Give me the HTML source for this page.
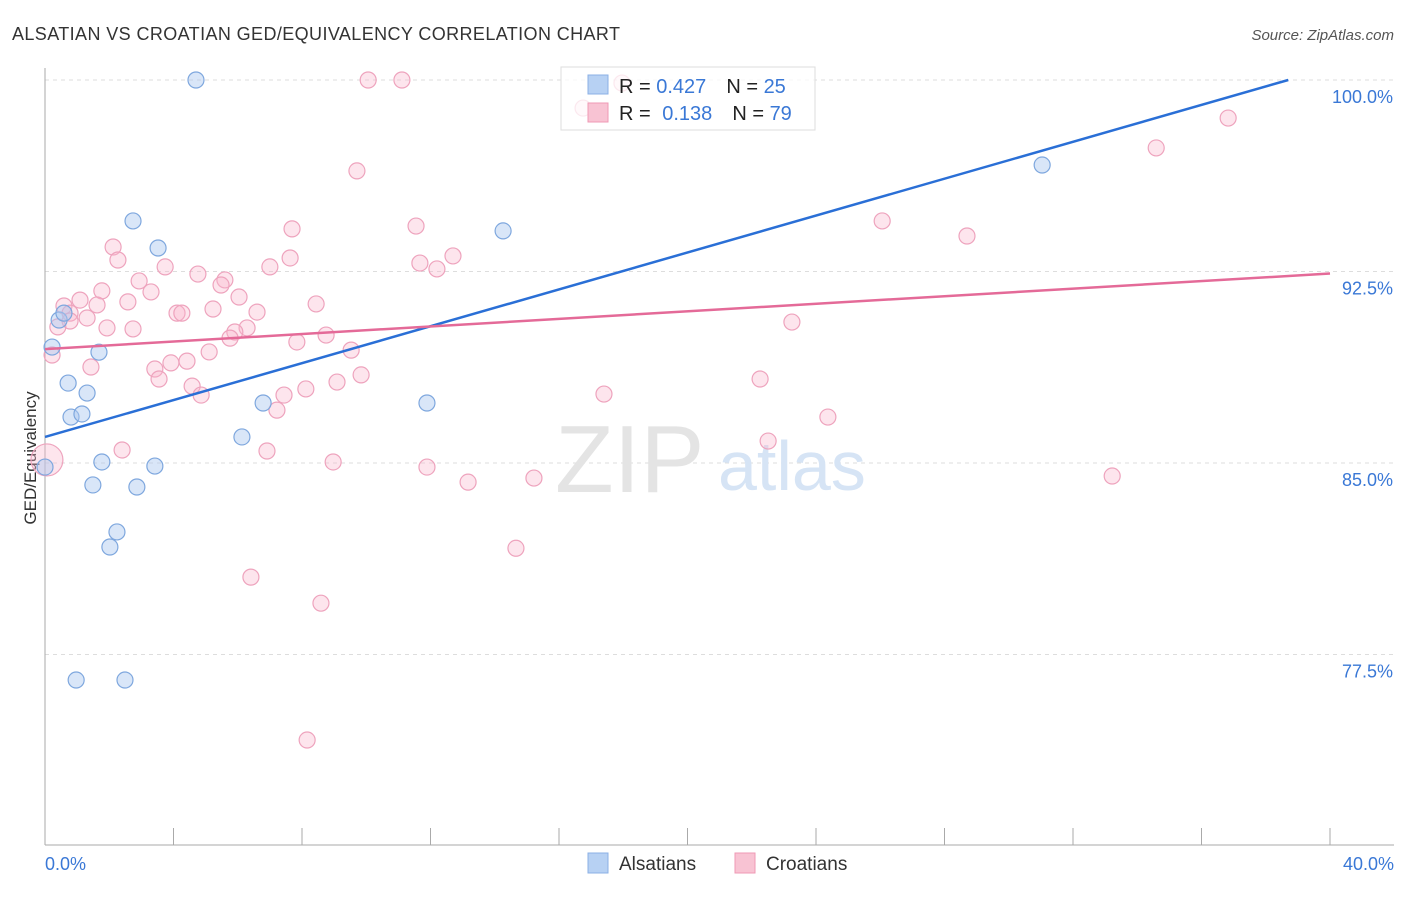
<!DOCTYPE html>
<html><head><meta charset="utf-8"><style>
body{margin:0;background:#fff;font-family:"Liberation Sans",sans-serif;}
svg text{font-family:"Liberation Sans",sans-serif;}
</style></head><body>
<svg id="chart" width="1406" height="892">
<text x="12" y="40" font-size="18" fill="#333" textLength="608">ALSATIAN VS CROATIAN GED/EQUIVALENCY CORRELATION CHART</text>
<text x="1394" y="40" font-size="15" fill="#555" text-anchor="end" font-style="italic">Source: ZipAtlas.com</text>
<text x="36" y="458" font-size="17" fill="#333" text-anchor="middle" transform="rotate(-90 36 458)">GED/Equivalency</text>
<g id="grid"></g>
<text x="555" y="492" font-size="96" fill="#e4e4e4" font-family="Liberation Serif">ZIP</text>
<text x="718" y="490" font-size="70" fill="#d6e4f5">atlas</text>
<g id="points"></g>
<g id="lines"></g>
<g>
<rect x="561" y="67" width="254" height="63" fill="#fff" fill-opacity="0.75" stroke="#ddd"/>
<rect x="588" y="75" width="20" height="19" fill="#b7d1f3" stroke="#8bb0e6"/>
<rect x="588" y="103" width="20" height="19" fill="#f8c3d3" stroke="#ef9ab5"/>
<text x="619" y="93" font-size="20" fill="#222">R = <tspan fill="#3a78d6">0.427</tspan><tspan dx="20">N = </tspan><tspan fill="#3a78d6">25</tspan></text>
<text x="619" y="120" font-size="20" fill="#222">R = <tspan dx="6" fill="#3a78d6">0.138</tspan><tspan dx="20">N = </tspan><tspan fill="#3a78d6">79</tspan></text>
</g>
<g>
<rect x="588" y="853" width="20" height="20" fill="#b7d1f3" stroke="#8bb0e6"/>
<text x="619" y="870" font-size="19" fill="#333">Alsatians</text>
<rect x="735" y="853" width="20" height="20" fill="#f8c3d3" stroke="#ef9ab5"/>
<text x="766" y="870" font-size="19" fill="#333">Croatians</text>
</g>
</svg>
<script>
const xTicksLabels=["0.0%","40.0%"];
const yTicks=[100,92.5,85,77.5];
const yTickLabels=["100.0%","92.5%","85.0%","77.5%"];
const alsX=[4.70,2.74,3.52,0.44,0.59,0.22,1.68,0.72,1.31,0.81,1.15,0.0,1.77,3.42,1.49,2.86,2.24,2.02,6.13,6.79,11.89,14.26,31.04,0.97,2.49];
const alsY=[100.0,94.48,93.42,90.60,90.87,89.54,89.34,88.13,87.74,86.80,86.92,84.84,85.04,84.88,84.14,84.06,82.30,81.71,86.02,87.35,87.35,94.09,96.67,76.50,76.50];
const croX=[10.06,11.11,17.96,16.75,36.83,34.59,9.71,26.06,28.70,11.55,7.69,2.12,2.27,12.70,7.63,3.74,11.67,12.20,7.00,4.76,2.93,5.60,5.48,1.77,3.30,2.58,6.04,0.59,1.09,8.44,5.23,6.60,4.11,4.26,0.78,1.62,1.31,0.78,1.93,2.74,0.40,6.29,5.91,8.75,5.76,7.84,23.25,9.53,5.11,0.22,4.42,3.92,1.43,3.42,3.55,9.84,9.09,4.58,4.86,7.44,8.12,22.26,17.40,7.22,24.37,22.51,2.40,6.91,0.06,8.97,11.89,33.22,15.22,13.17,14.66,6.41,8.59,8.16];
const croY=[100.0,100.0,99.88,98.90,98.51,97.34,96.44,94.48,93.89,94.28,94.17,93.46,92.95,93.11,93.03,92.68,92.83,92.60,92.68,92.40,92.13,92.17,91.97,91.74,91.70,91.31,91.50,91.15,91.38,91.23,91.03,90.91,90.87,90.87,90.87,91.19,90.68,90.56,90.29,90.25,90.33,90.29,90.13,90.01,89.89,89.74,90.52,89.42,89.35,89.23,88.99,88.92,88.76,88.68,88.29,88.45,88.17,88.01,87.66,87.66,87.90,88.29,87.70,87.07,86.80,85.86,85.51,85.47,85.12,85.04,84.84,84.49,84.41,84.25,81.66,80.53,79.51,74.15];
const alsLine=[[0,86.02],[38.7,100]];
const croLine=[[0,89.46],[40,92.42]];
const NS="http://www.w3.org/2000/svg";
const X=v=>45+v/40*1285;
const Y=v=>80+(100-v)/7.5*191.5;
function mk(t,a,p){const e=document.createElementNS(NS,t);for(const k in a)e.setAttribute(k,a[k]);p.appendChild(e);return e;}
const g=document.getElementById('grid');
yTicks.forEach((t,i)=>{
 const l=mk('line',{x1:45,x2:1394,y1:Y(t),y2:Y(t),stroke:'#ddd','stroke-dasharray':'4,4'},g);
 
 
 const tx=mk('text',{x:1393,y:Y(t)+23,'font-size':18,fill:'#3a78d6','text-anchor':'end'},g);
 tx.textContent=yTickLabels[i];
 
 
});
mk('line',{x1:45,x2:45,y1:68,y2:845,stroke:'#aaa'},g);
mk('line',{x1:45,x2:1394,y1:845,y2:845,stroke:'#aaa'},g);
for(let i=0;i<=10;i++){const l=mk('line',{x1:X(i*4),x2:X(i*4),y1:828,y2:845,stroke:'#aaa'},g);
 
 }
const t0=mk('text',{x:45,y:870,'font-size':18,fill:'#3a78d6'},g);t0.textContent=xTicksLabels[0];


const t1=mk('text',{x:1394,y:870,'font-size':18,fill:'#3a78d6','text-anchor':'end'},g);t1.textContent=xTicksLabels[1];


const pg=document.getElementById('points');
croX.forEach((x,i)=>{const c=mk('circle',{cx:X(x),cy:Y(croY[i]),r:(x<0.1&&croY[i]>85&&croY[i]<85.2)?16:8,fill:'rgba(248,180,202,0.35)',stroke:'#eea3bd','stroke-width':1.2},pg);
 
 });
alsX.forEach((x,i)=>{const c=mk('circle',{cx:X(x),cy:Y(alsY[i]),r:8,fill:'rgba(170,200,240,0.45)',stroke:'#7ea7de','stroke-width':1.2},pg);
 
 });
const lg=document.getElementById('lines');
const a=mk('line',{x1:X(alsLine[0][0]),y1:Y(alsLine[0][1]),x2:X(alsLine[1][0]),y2:Y(alsLine[1][1]),stroke:'#2a6fd6','stroke-width':2.5},lg);


const b=mk('line',{x1:X(croLine[0][0]),y1:Y(croLine[0][1]),x2:X(croLine[1][0]),y2:Y(croLine[1][1]),stroke:'#e46a98','stroke-width':2.5},lg);


</script>
</body></html>
